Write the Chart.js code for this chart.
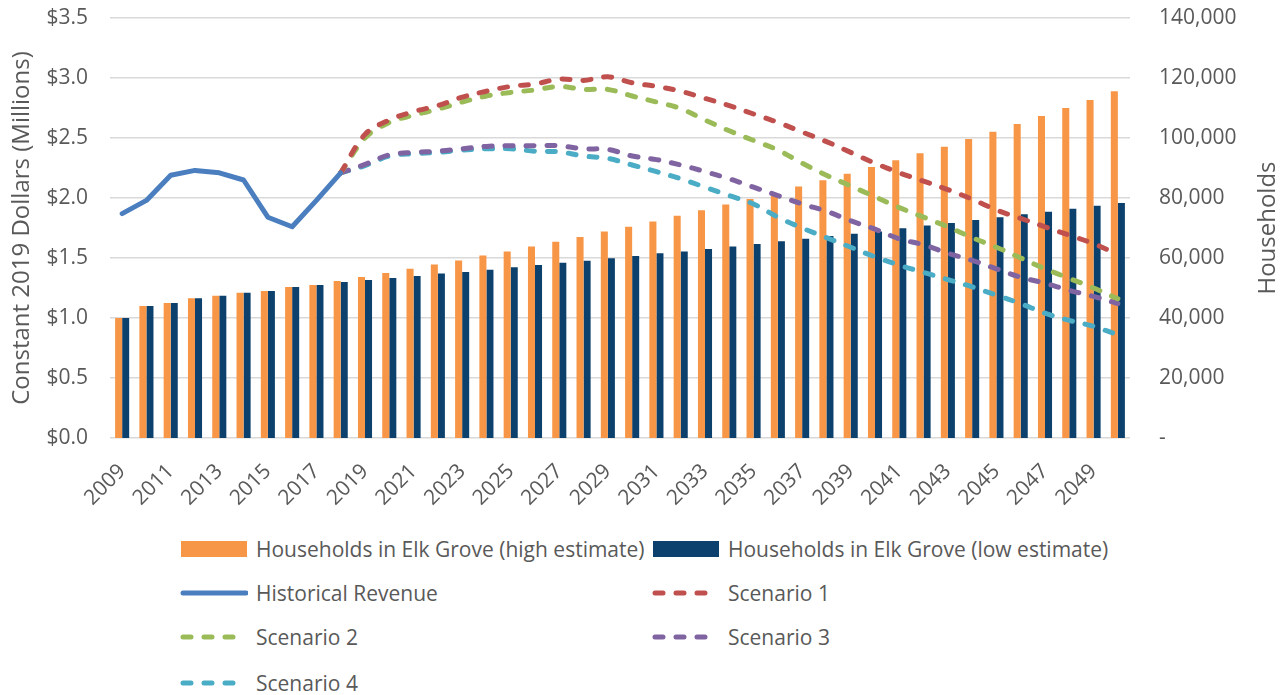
<!DOCTYPE html>
<html>
<head>
<meta charset="utf-8">
<script src="https://cdn.jsdelivr.net/npm/chart.js@4.4.1/dist/chart.umd.min.js"></script>
<style>
  body { margin: 0; background: #fff; font-family: "Open Sans", sans-serif; }
  #wrap { position: relative; width: 1286px; height: 695px; overflow: hidden; }
  #chartBox { position: absolute; left: 0; top: 0; width: 1286px; height: 525px; }
  .item { position: absolute; height: 30px; display: flex; align-items: center;
          color: #595959; font-size: 21px; white-space: nowrap; }
  .item svg { margin-right: 8px; }
</style>
</head>
<body>
<div id="wrap">
  <div id="chartBox"><canvas id="revChart"></canvas></div>
  <div id="legend"></div>
</div>
<script>
// years on the x axis
var years = ['2009','2010','2011','2012','2013','2014','2015','2016','2017','2018',
  '2019','2020','2021','2022','2023','2024','2025','2026','2027','2028',
  '2029','2030','2031','2032','2033','2034','2035','2036','2037','2038',
  '2039','2040','2041','2042','2043','2044','2045','2046','2047','2048',
  '2049','2050'];

// households (right axis)
var householdsHigh = [40000, 44000, 45000, 46600, 47400, 48400, 49000, 50300, 51000, 52300,
  53700, 55000, 56400, 57800, 59200, 60800, 62200, 63800, 65400, 67000,
  68800, 70400, 72200, 74100, 75900, 77800, 79700, 81700, 83800, 85900,
  88100, 90300, 92600, 94900, 97100, 99700, 102100, 104700, 107300, 110000,
  112700, 115600];
var householdsLow = [40000, 44000, 45000, 46600, 47400, 48400, 49000, 50300, 51000, 52000,
  52700, 53300, 54000, 54800, 55300, 56100, 56900, 57700, 58400, 59100,
  59900, 60700, 61600, 62200, 63000, 63800, 64700, 65600, 66400, 67300,
  68100, 68800, 69900, 70800, 71700, 72700, 73600, 74600, 75400, 76400,
  77400, 78300];

// revenue in $ millions (left axis), 2009-2018
var historical = [1.87, 1.98, 2.19, 2.23, 2.21, 2.15, 1.84, 1.76, 1.98, 2.21];

// projections 2018-2050
var scenario1 = [2.21, 2.53, 2.65, 2.72, 2.77, 2.84, 2.89, 2.93, 2.95, 2.99,
  2.98, 3.01, 2.96, 2.93, 2.89, 2.83, 2.77, 2.70, 2.63, 2.55,
  2.47, 2.38, 2.29, 2.21, 2.14, 2.07, 1.99, 1.90, 1.83, 1.76,
  1.69, 1.62, 1.53];
var scenario2 = [2.21, 2.50, 2.63, 2.69, 2.74, 2.80, 2.85, 2.88, 2.90, 2.93,
  2.905, 2.905, 2.85, 2.80, 2.745, 2.65, 2.56, 2.48, 2.40, 2.29,
  2.19, 2.10, 2.01, 1.92, 1.84, 1.76, 1.67, 1.59, 1.50, 1.41,
  1.33, 1.25, 1.16];
var scenario3 = [2.21, 2.28, 2.36, 2.38, 2.39, 2.41, 2.43, 2.435, 2.435, 2.435,
  2.41, 2.405, 2.35, 2.32, 2.275, 2.22, 2.16, 2.09, 2.02, 1.95,
  1.89, 1.81, 1.74, 1.66, 1.61, 1.54, 1.48, 1.41, 1.34, 1.29,
  1.23, 1.18, 1.12];
var scenario4 = [2.21, 2.27, 2.35, 2.37, 2.38, 2.40, 2.41, 2.41, 2.39, 2.385,
  2.35, 2.33, 2.275, 2.22, 2.16, 2.09, 2.02, 1.95, 1.84, 1.75,
  1.67, 1.59, 1.51, 1.44, 1.38, 1.32, 1.26, 1.19, 1.12, 1.04,
  0.98, 0.93, 0.86];

// pad series out to the full year range
function histSeries(vals) {
  return years.map(function (y, i) { return i < vals.length ? vals[i] : null; });
}
function projSeries(vals) {
  var start = years.indexOf('2018');
  return years.map(function (y, i) { return i >= start ? vals[i - start] : null; });
}

var grey = '#595959';
var tickFont = { family: '"Open Sans", sans-serif', size: 21 };
var titleFont = { family: '"Open Sans", sans-serif', size: 24 };

function dashed(label, data, color) {
  return {
    type: 'line', label: label, data: data, yAxisID: 'y',
    borderColor: color, backgroundColor: color, borderWidth: 5,
    borderDash: [8, 13], borderCapStyle: 'round',
    pointRadius: 0, tension: 0.35, order: 0, spanGaps: false
  };
}

// right axis title reads bottom-to-top in the original, so draw it by hand
var rightTitle = {
  id: 'rightTitle',
  afterDraw: function (chart) {
    var c = chart.ctx, a = chart.chartArea;
    c.save();
    c.translate(1268, (a.top + a.bottom) / 2);
    c.rotate(-Math.PI / 2);
    c.fillStyle = grey;
    c.font = '24px "Open Sans", sans-serif';
    c.textAlign = 'center';
    c.textBaseline = 'middle';
    c.fillText('Households', 0, 0);
    c.restore();
  }
};

function noVertPad(s) { s.paddingTop = 0; s.paddingBottom = 0; }

var ctx = document.getElementById('revChart').getContext('2d');
var revChart = new Chart(ctx, {
  data: {
    labels: years,
    datasets: [
      { type: 'bar', label: 'Households in Elk Grove (high estimate)', data: householdsHigh,
        yAxisID: 'y1', backgroundColor: '#F79646', order: 2,
        categoryPercentage: 0.58, barPercentage: 1.0 },
      { type: 'bar', label: 'Households in Elk Grove (low estimate)', data: householdsLow,
        yAxisID: 'y1', backgroundColor: '#0D416D', order: 2,
        categoryPercentage: 0.58, barPercentage: 1.0 },
      { type: 'line', label: 'Historical Revenue', data: histSeries(historical), yAxisID: 'y',
        borderColor: '#4A7EBF', backgroundColor: '#4A7EBF', borderWidth: 5,
        borderCapStyle: 'round', borderJoinStyle: 'round', pointRadius: 0, tension: 0, order: 0 },
      dashed('Scenario 1', projSeries(scenario1), '#C0504D'),
      dashed('Scenario 2', projSeries(scenario2), '#9BBB59'),
      dashed('Scenario 3', projSeries(scenario3), '#8064A2'),
      dashed('Scenario 4', projSeries(scenario4), '#4BACC6')
    ]
  },
  options: {
    responsive: true,
    maintainAspectRatio: false,
    animation: false,
    layout: { padding: { top: 18, left: 0, right: 0, bottom: 0 } },
    plugins: { legend: { display: false }, tooltip: { enabled: false } },
    scales: {
      x: {
        grid: { display: false },
        border: { display: false },
        ticks: {
          color: grey, font: tickFont, autoSkip: false,
          maxRotation: 45, minRotation: 45, padding: 13,
          callback: function (v, i) { return i % 2 === 0 ? years[i] : ''; }
        },
        afterFit: function (s) { s.height = 87; }
      },
      y: {
        position: 'left', min: 0, max: 3.5,
        grid: { color: '#D9D9D9', lineWidth: 1.5, drawTicks: false },
        border: { display: false },
        ticks: {
          stepSize: 0.5, color: grey, font: tickFont, padding: 22,
          callback: function (v) { return '$' + v.toFixed(1); }
        },
        title: { display: true, text: 'Constant 2019 Dollars (Millions)', color: grey, font: titleFont,
          padding: { top: 8, bottom: 0 } },
        afterFit: function (s) { s.width = 110; noVertPad(s); }
      },
      y1: {
        position: 'right', min: 0, max: 140000,
        grid: { display: false },
        border: { display: false },
        ticks: {
          stepSize: 20000, color: grey, font: tickFont, padding: 21,
          callback: function (v) { return v === 0 ? '-' : v.toLocaleString('en-US'); }
        },
        afterFit: function (s) { s.width = 156; noVertPad(s); }
      }
    }
  },
  plugins: [rightTitle]
});

// legend laid out in two columns like the original
var legendSpots = [[180, 549], [652, 549], [180, 593], [652, 593], [180, 637], [652, 637], [180, 683]];
var legendBox = document.getElementById('legend');
revChart.data.datasets.forEach(function (ds, i) {
  var spot = legendSpots[i];
  var el = document.createElement('div');
  el.className = 'item';
  el.style.left = spot[0] + 'px';
  el.style.top = (spot[1] - 15) + 'px';
  var sw;
  if (ds.type === 'bar') {
    sw = '<svg width="68" height="16"><rect x="1" y="0" width="66" height="16" fill="' + ds.backgroundColor + '"/></svg>';
  } else {
    var dash = ds.borderDash ? ' stroke-dasharray="8 13"' : '';
    sw = '<svg width="68" height="10"><line x1="3" y1="5" x2="66" y2="5" stroke="' + ds.borderColor +
      '" stroke-width="5" stroke-linecap="round"' + dash + '/></svg>';
  }
  el.innerHTML = sw + '<span>' + ds.label + '</span>';
  legendBox.appendChild(el);
});
</script>
</body>
</html>
